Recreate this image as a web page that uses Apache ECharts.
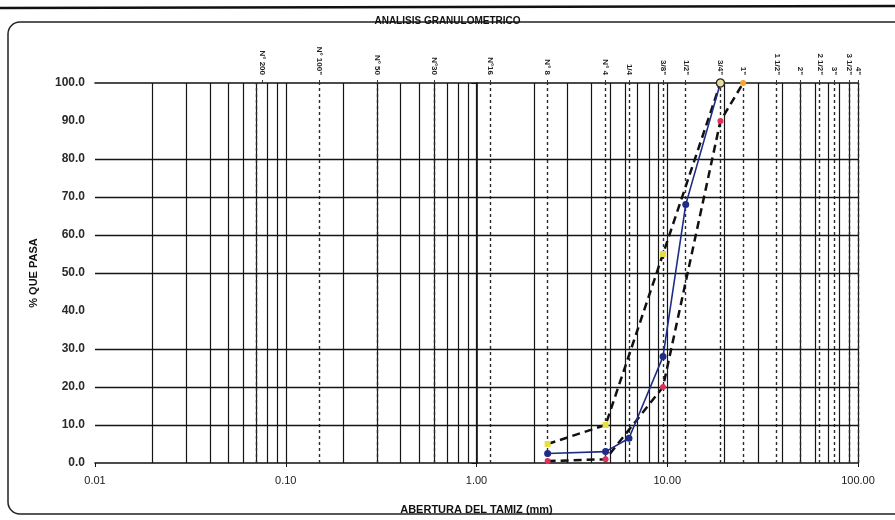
<!DOCTYPE html>
<html><head><meta charset="utf-8">
<script src="https://cdn.jsdelivr.net/npm/echarts@6/dist/echarts.min.js"></script>
<style>html,body{margin:0;padding:0;background:#fff}#c{width:895px;height:520px}</style>
</head><body><div id="c"></div>
<script>
// ---- data ----
const sieveNames = ['N° 200','N° 100"','N° 50','N°30','N°16','N° 8','N° 4','1/4','3/8"','1/2"','3/4"','1"','1 1/2"','2"','2 1/2"','3"','3 1/2"','4"'];
const sieveSizes = [0.075,0.15,0.3,0.6,1.18,2.36,4.75,6.3,9.5,12.5,19,25,37.5,50,63,75,90,100];
const yGridValues = [10,20,30,50,60,70,80];
const yTickValues = [0,10,20,30,50,60,70,80,100];

const sampleSizes = [2.36,4.75,6.3,9.5,12.5,19];
const samplePass  = [2.5,3,6.5,28,68,100];
const upperSizes  = [2.36,4.75,9.5,19];
const upperPass   = [5,10,55,100];
const lowerSizes  = [2.36,4.75,9.5,19,25];
const lowerPass   = [0.5,1,20,90,100];

// ---- build ----
const FONT = '"Liberation Sans", Arial, sans-serif';
const minorX = [];
for (let d = -2; d <= 1; d++) for (let k = 1; k <= 9; k++) {
  const v = +(k * Math.pow(10, d)).toPrecision(6);
  if (v > 0.01) minorX.push(v);
}
minorX.push(100);
const sieveLogs = sieveSizes.map(s => Math.log10(s));

const mlData = [];
minorX.forEach(v => mlData.push({xAxis: v, lineStyle: {type: 'solid', color: '#151515', width: 1.2}}));
sieveSizes.forEach(v => mlData.push({xAxis: v, lineStyle: {type: [3, 3], color: '#2a2a2a', width: 1.4}}));
yGridValues.forEach(v => mlData.push({yAxis: v, lineStyle: {type: 'solid', color: '#151515', width: 1.3}}));

const pairs = (xs, ys) => xs.map((x, i) => [x, ys[i]]);
const topPoint = {symbol: 'circle', symbolSize: 8, itemStyle: {color: '#e8dca0', borderColor: '#222', borderWidth: 1.2}};

const chart = echarts.init(document.getElementById('c'), null, {renderer: 'canvas'});
chart.setOption({
  animation: false,
  backgroundColor: '#ffffff',
  textStyle: {fontFamily: FONT},
  title: {
    text: 'ANALISIS GRANULOMETRICO', left: 'center', top: 11,
    textStyle: {fontSize: 10, fontWeight: 'bold', color: '#111', fontFamily: FONT}
  },
  graphic: [
    {type: 'line', shape: {x1: 0, y1: 8, x2: 895, y2: 6}, style: {stroke: '#111', lineWidth: 2.5}, silent: true},
    {type: 'rect', shape: {x: 8, y: 22, width: 900, height: 492, r: 12}, style: {fill: 'none', stroke: '#222', lineWidth: 1.5}, silent: true}
  ],
  grid: {left: 95, right: 37, top: 83, bottom: 56},
  xAxis: [{
    type: 'log', logBase: 10, min: 0.01, max: 100, position: 'bottom',
    name: 'ABERTURA DEL TAMIZ (mm)', nameLocation: 'middle', nameGap: 41,
    nameTextStyle: {fontSize: 11, fontWeight: 'bold', color: '#111', fontFamily: FONT},
    axisLine: {lineStyle: {color: '#111', width: 1.6}},
    axisTick: {show: true, length: 4, lineStyle: {color: '#111'}},
    axisLabel: {formatter: v => Number(v).toFixed(2), fontSize: 11, color: '#1a1a1a', margin: 12},
    splitLine: {show: false}, minorTick: {show: false}
  }, {
    type: 'value', min: -2, max: 2, position: 'top',
    axisLine: {show: true, lineStyle: {color: '#111', width: 1.6}},
    axisTick: {show: true, length: 3, customValues: sieveLogs, lineStyle: {color: '#333'}},
    axisLabel: {
      customValues: sieveLogs, rotate: 90, fontSize: 8, fontWeight: 'bold', color: '#222', margin: 8,
      formatter: v => { const i = sieveLogs.findIndex(s => Math.abs(s - v) < 1e-6); return i >= 0 ? sieveNames[i] : ''; }
    },
    splitLine: {show: false}
  }],
  yAxis: {
    type: 'value', min: 0, max: 100, interval: 10,
    name: '% QUE PASA', nameLocation: 'middle', nameGap: 56, nameRotate: 90,
    nameTextStyle: {fontSize: 11, fontWeight: 'bold', color: '#111', fontFamily: FONT},
    axisLine: {show: true, lineStyle: {color: '#111', width: 1.6}},
    axisTick: {show: true, length: 5, customValues: yTickValues, lineStyle: {color: '#111'}},
    axisLabel: {formatter: v => v.toFixed(1), fontSize: 12, fontWeight: 'bold', color: '#2a2a2a', margin: 10},
    splitLine: {show: false}
  },
  series: [{
    name: 'Muestra', type: 'line', xAxisIndex: 0, yAxisIndex: 0, z: 4,
    data: pairs(sampleSizes, samplePass).map((p, i, a) => i === a.length - 1 ? Object.assign({value: p}, topPoint) : p),
    symbol: 'circle', symbolSize: 7,
    lineStyle: {color: '#1f2d86', width: 1.6},
    itemStyle: {color: '#1f2d86'},
    markLine: {silent: true, symbol: ['none', 'none'], label: {show: false}, z: 1, animation: false, data: mlData}
  }, {
    name: 'Límite superior', type: 'line', xAxisIndex: 0, yAxisIndex: 0, z: 3,
    data: pairs(upperSizes, upperPass).map((p, i, a) => i === a.length - 1 ? Object.assign({value: p}, topPoint) : p),
    symbol: 'rect', symbolSize: 6,
    lineStyle: {color: '#111', width: 2.5, type: [8, 5]},
    itemStyle: {color: '#e8e040'}
  }, {
    name: 'Límite inferior', type: 'line', xAxisIndex: 0, yAxisIndex: 0, z: 3,
    data: pairs(lowerSizes, lowerPass).map((p, i, a) => i === a.length - 1 ? {value: p, itemStyle: {color: '#f0a830'}} : p),
    symbol: 'circle', symbolSize: 6,
    lineStyle: {color: '#111', width: 2.5, type: [8, 5]},
    itemStyle: {color: '#e0305a'}
  }]
});
</script>
</body></html>
